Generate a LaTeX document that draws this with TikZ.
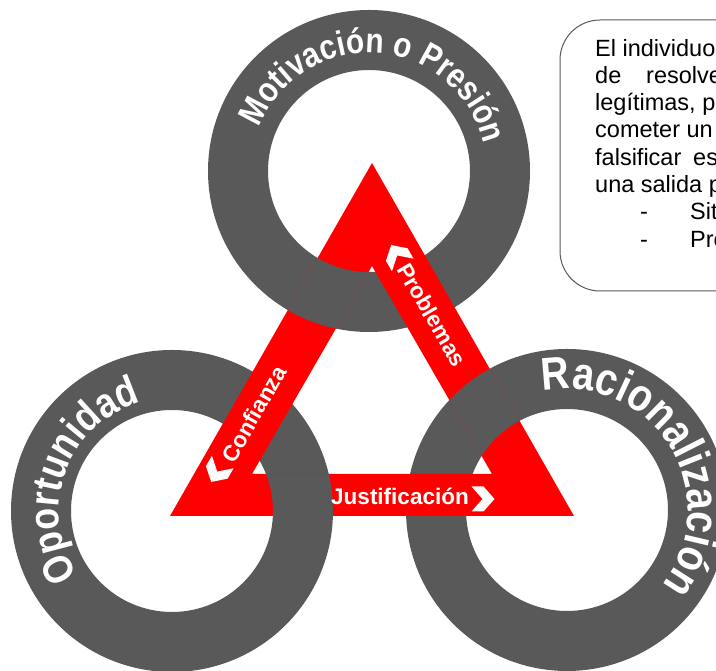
\documentclass[tikz,border=0pt]{standalone}
\usepackage{fontspec}
\setmainfont{Liberation Sans}
\newfontfamily\anillofont{Liberation Sans}[FakeStretch=0.85]
\usetikzlibrary{decorations.text}
\definecolor{grisanillo}{RGB}{89,89,89}
\definecolor{rojo}{RGB}{255,0,0}
\tikzset{
  anillo/.style={fill=grisanillo, even odd rule},
  banda/.style={font=\bfseries\fontsize{22.5}{22.5}\selectfont, text=white, inner sep=0pt},
  linea/.style={font=\fontsize{23.5}{27}\selectfont, anchor=base west, inner sep=0pt},
  marco/.style={draw=grisanillo, line width=1, rounded corners=40},
  pico/.pic={\fill[white] (-11.5,12.5) -- (0.5,12.5) -- (11.5,0) -- (0.5,-12.5) -- (-11.5,-12.5) -- (-0.5,0) -- cycle;}
}
\begin{document}
\begin{tikzpicture}[x=1pt,y=1pt]
  \useasboundingbox (0,0) rectangle (716,671);
  \clip (0,0) rectangle (716,671);
  \coordinate (sup) at (369,500);
  \coordinate (izq) at (172,160);
  \coordinate (der) at (567,161);
  \coordinate (A) at (372,508);
  \coordinate (B) at (170,155);
  \coordinate (C) at (574,155);
  \coordinate (a) at (372,405);
  \coordinate (b) at (252,197);
  \coordinate (c) at (492,197);
  \foreach \p in {sup,izq,der}
    \fill[anillo] (\p) circle[radius=161] (\p) circle[radius=101];
  \fill[rojo, even odd rule] (A) -- (B) -- (C) -- cycle (a) -- (b) -- (c) -- cycle;
  \foreach \u/\v/\w/\z/\p in {A/B/b/a/sup, B/C/c/b/izq, C/A/a/c/der}{
    \begin{scope}
      \clip (\u) -- (\v) -- (\w) -- (\z) -- cycle;
      \fill[anillo] (\p) circle[radius=161] (\p) circle[radius=101];
    \end{scope}
  }
  \node[banda, rotate=-60] (problemas) at (432,356) {Problemas};
  \node[banda, rotate=60] (confianza) at (254,257) {Confianza};
  \node[banda] (justificacion) at (400,175) {Justificación};
  \pic[rotate=120] at (397,416) {pico};
  \pic[rotate=240] at (217,199) {pico};
  \pic at (483,172) {pico};
  \path[decorate, decoration={text along path, text align=center, text color=white,
    text={|\anillofont\bfseries\fontsize{35}{35}\selectfont|Motivación o Presión}}]
    ([shift={(175.7:118)}]sup) arc[start angle=175.7, end angle=-4.3, radius=118];
  \path[decorate, decoration={text along path, text align=center, text color=white,
    text={|\anillofont\bfseries\fontsize{42}{42}\selectfont|Oportunidad}}]
    ([shift={(250:113)}]izq) arc[start angle=250, end angle=70, radius=113];
  \path[decorate, decoration={text along path, text align=center, text color=white,
    text={|\anillofont\bfseries\fontsize{46}{46}\selectfont|Racionalización}}]
    ([shift={(121.5:121)}]der) arc[start angle=121.5, end angle=-58.5, radius=121];
  \draw[marco] (560,651) rectangle (790,380);
  \node[linea] (l1) at (595,614.5) {El individuo};
  \node[linea] (l2) at (595,587.7) {de};
  \node[linea] (l2b) at (646,587.7) {resolve};
  \node[linea] (l3) at (595,560.3) {legítimas, p};
  \node[linea] (l4) at (595,533) {cometer un};
  \node[linea] (l5) at (595,505.7) {falsificar};
  \node[linea] (l5b) at (693,505.7) {es};
  \node[linea] (l6) at (595,478.3) {una salida p};
  \node[linea] (l7) at (640,451) {-};
  \node[linea] (l7b) at (690,451) {Sit};
  \node[linea] (l8) at (640,423.6) {-};
  \node[linea] (l8b) at (690,423.6) {Pre};
\end{tikzpicture}
\end{document}
